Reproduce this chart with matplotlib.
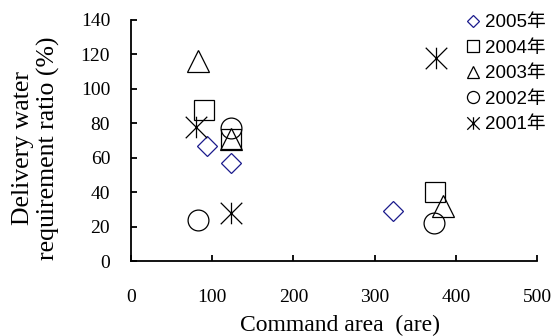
import matplotlib
matplotlib.use("Agg")
import matplotlib.pyplot as plt
from matplotlib.path import Path

# --- DATA ---
years = ["2005年", "2004年", "2003年", "2002年", "2001年"]
x_2005 = [93, 123, 323]
y_2005 = [67, 57, 29]
x_2004 = [90, 123, 374]
y_2004 = [88, 71, 40]
x_2003 = [82, 123, 384]
y_2003 = [116, 71, 32]
x_2002 = [82, 123, 373]
y_2002 = [24, 77, 22]
x_2001 = [80, 123, 375]
y_2001 = [78, 28, 118]

x_ticks = [0, 100, 200, 300, 400, 500]
y_ticks = [0, 20, 40, 60, 80, 100, 120, 140]

# asterisk: X with a vertical bar
star = Path([(-1, -1), (1, 1), (-1, 1), (1, -1), (0, -1), (0, 1)],
            [Path.MOVETO, Path.LINETO, Path.MOVETO, Path.LINETO, Path.MOVETO, Path.LINETO])

series = [
    (x_2005, y_2005, "D", 10.5, "#1a1a8c"),
    (x_2004, y_2004, "s", 14.5, "black"),
    (x_2003, y_2003, "^", 15.5, "black"),
    (x_2002, y_2002, "o", 15, "black"),
    (x_2001, y_2001, star, 15.5, "black"),
]

W, H = 554, 336
fig = plt.figure(figsize=(W / 100, H / 100), dpi=100)
ax = fig.add_axes([131 / W, 1 - 261 / H, 406 / W, 241 / H])

for (xs, ys, m, ms, c), lab in zip(series, years):
    ax.plot(xs, ys, linestyle="none", marker=m, markersize=ms,
            markerfacecolor="none", markeredgecolor=c, markeredgewidth=0.9,
            label=lab, clip_on=False)

ax.set_xlim(0, 500)
ax.set_ylim(0, 140)
ax.set_xticks(x_ticks)
ax.set_yticks(y_ticks)
for s in ["top", "right"]:
    ax.spines[s].set_visible(False)
for s in ["left", "bottom"]:
    ax.spines[s].set_linewidth(1.3)
ax.tick_params(direction="in", length=4, width=1.3, labelsize=14)
ax.tick_params(axis="x", pad=20)
ax.tick_params(axis="y", pad=15)
for t in ax.get_xticklabels() + ax.get_yticklabels():
    t.set_family("Liberation Serif")

ax.set_xlabel("Command area  (are)", family="Liberation Serif", fontsize=17)
ax.xaxis.set_label_coords((340 - 131) / 406, -(325 - 261) / 241)
ax.xaxis.label.set_verticalalignment("center")
ax.set_ylabel("Delivery water\nrequirement ratio (%)", family="Liberation Serif",
              fontsize=18.5, linespacing=1.15)
ax.yaxis.set_label_coords(-(131 - 36) / 406, (261 - 148) / 241)
ax.yaxis.label.set_verticalalignment("center")

leg = ax.legend(loc="upper left", bbox_to_anchor=(466 / W, 1 - 14 / H),
                bbox_transform=fig.transFigure, frameon=False, markerscale=0.58,
                handlelength=0.7, handletextpad=0.3, borderpad=0, borderaxespad=0,
                labelspacing=0.45,
                prop={"family": ["Liberation Sans", "Noto Sans CJK JP"], "size": 13.5})

fig.savefig("out.png", dpi=100)
